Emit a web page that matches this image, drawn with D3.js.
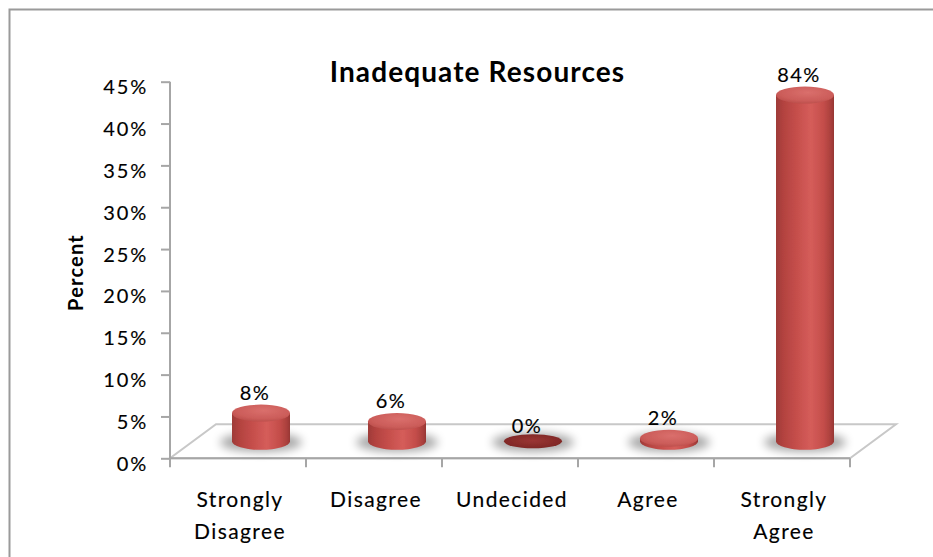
<!DOCTYPE html>
<html>
<head>
<meta charset="utf-8">
<script src="https://cdn.jsdelivr.net/npm/d3@7"></script>
<style>
  html, body { margin: 0; padding: 0; background: #fff; }
  svg { display: block; }
  text { font-family: Lato, "Open Sans", sans-serif; fill: #000; stroke: #000; stroke-width: 0.15px; }
  text.bold { stroke-width: 0; }
</style>
</head>
<body>
<svg id="chart" width="933" height="557"></svg>
<script>
// Survey responses
const categories = ["Strongly Disagree", "Disagree", "Undecided", "Agree", "Strongly Agree"];
const percents = [8, 6, 0, 2, 84];
const tickValues = [0, 10, 20, 30, 40, 50, 60, 70, 80, 90];
const tickLabels = ["0%", "5%", "10%", "15%", "20%", "25%", "30%", "35%", "40%", "45%"];
const title = "Inadequate Resources";
const axisTitle = "Percent";

const svg = d3.select("#chart");
const defs = svg.append("defs");

// Frame around the chart area
svg.append("rect")
  .attr("x", 9.5).attr("y", 9.5)
  .attr("width", 1000).attr("height", 1000)
  .attr("fill", "none").attr("stroke", "#9a9a9a").attr("stroke-width", 2);

// Plot geometry (front plane + floor depth)
const plot = { left: 170, right: 850, bottom: 458.3, top: 81.7 };
const depth = { dx: 46, dy: -34 };

const x = d3.scaleBand().domain(categories).range([plot.left, plot.right]).paddingInner(0).paddingOuter(0);
const y = d3.scaleLinear().domain([0, 90]).range([plot.bottom, plot.top]);
// Bars stand half-way into the floor depth
const yBar = d3.scaleLinear().domain([0, 90]).range([446.6, 446.6 - (plot.bottom - plot.top)]);
const baseY = plot.bottom + depth.dy / 2;
const rx = 29, ry = 8.5;

// Gradients and filters
const body = defs.append("linearGradient").attr("id", "cylBody").attr("x1", "0").attr("x2", "1").attr("y1", "0").attr("y2", "0");
[[0, "#9e3b38"], [0.12, "#b2423f"], [0.35, "#c54e4b"], [0.6, "#d55d5a"], [0.82, "#c44d4a"], [0.95, "#a93f3c"], [1, "#963633"]]
  .forEach(([o, c]) => body.append("stop").attr("offset", o).attr("stop-color", c));

const topFace = defs.append("radialGradient").attr("id", "cylTop").attr("cx", "0.55").attr("cy", "0.35").attr("r", "0.7");
[[0, "#da6f6c"], [0.7, "#cb5c59"], [1, "#b84b48"]]
  .forEach(([o, c]) => topFace.append("stop").attr("offset", o).attr("stop-color", c));

const zeroFace = defs.append("radialGradient").attr("id", "cylZero").attr("cx", "0.5").attr("cy", "0.45").attr("r", "0.65");
[[0, "#9a3533"], [1, "#7a2624"]]
  .forEach(([o, c]) => zeroFace.append("stop").attr("offset", o).attr("stop-color", c));

defs.append("filter").attr("id", "shadowBlur").attr("x", "-50%").attr("y", "-100%").attr("width", "200%").attr("height", "300%")
  .append("feGaussianBlur").attr("stdDeviation", 5);
defs.append("filter").attr("id", "soft")
  .append("feGaussianBlur").attr("stdDeviation", 0.5);

// Floor
const floor = [
  [plot.left, plot.bottom],
  [plot.right, plot.bottom],
  [plot.right + depth.dx, plot.bottom + depth.dy],
  [plot.left + depth.dx, plot.bottom + depth.dy]
];
svg.append("path")
  .attr("d", d3.line()(floor) + "Z")
  .attr("fill", "none").attr("stroke", "#c8c8c8").attr("stroke-width", 2);

// Category axis along the front edge of the floor
const xAxis = svg.append("g")
  .attr("transform", `translate(0,${plot.bottom})`)
  .call(d3.axisBottom(x).tickSize(0).tickFormat(""));
xAxis.select(".domain").attr("stroke", "#a6a6a6").attr("stroke-width", 2).attr("d", `M${plot.left},0H${plot.right}`);
xAxis.selectAll(".tick").remove();
xAxis.selectAll(".sep")
  .data(categories.map(c => x(c)).concat([plot.right]))
  .join("line")
  .attr("x1", d => d).attr("x2", d => d)
  .attr("y1", 0).attr("y2", 9)
  .attr("stroke", "#a6a6a6").attr("stroke-width", 2);

// Category labels, wrapped on spaces
const catLabels = svg.append("g");
categories.forEach(c => {
  const t = catLabels.append("text")
    .attr("text-anchor", "middle")
    .attr("font-size", 21)
    .attr("letter-spacing", 1.4)
    .attr("x", x(c) + x.bandwidth() / 2 + 2)
    .attr("y", 506.7);
  c.split(" ").forEach((w, i) => {
    t.append("tspan")
      .attr("x", x(c) + x.bandwidth() / 2 + 2)
      .attr("dy", i === 0 ? 0 : 32.3)
      .text(w);
  });
});

// Value axis
const yAxis = svg.append("g")
  .attr("transform", `translate(${plot.left},0)`)
  .call(d3.axisLeft(y).tickValues(tickValues).tickFormat((d, i) => tickLabels[i]).tickSize(9).tickPadding(13));
yAxis.select(".domain").attr("stroke", "#a6a6a6").attr("stroke-width", 2).attr("d", `M0,${plot.top}V${plot.bottom}`);
yAxis.selectAll(".tick line").attr("stroke", "#a6a6a6").attr("stroke-width", 2);
yAxis.selectAll(".tick text")
  .attr("font-family", "Lato, sans-serif")
  .attr("font-size", 20)
  .attr("letter-spacing", 1.8)
  .attr("fill", "#000")
  .attr("dy", 12);

// Cylinders
const bars = svg.append("g");
percents.forEach((v, i) => {
  const cx = x(categories[i]) + x.bandwidth() / 2 + depth.dx / 2;
  const topY = Math.min(baseY, yBar(v));
  const g = bars.append("g");

  g.append("ellipse")
    .attr("cx", cx).attr("cy", baseY + 1)
    .attr("rx", rx + 12).attr("ry", ry + 1)
    .attr("fill", "#000").attr("opacity", 0.35)
    .attr("filter", "url(#shadowBlur)");

  if (v > 0) {
    g.append("path")
      .attr("d", `M${cx - rx},${topY}V${baseY}A${rx},${ry} 0 0 0 ${cx + rx},${baseY}V${topY}Z`)
      .attr("fill", "url(#cylBody)")
      .attr("filter", "url(#soft)");
    g.append("ellipse")
      .attr("cx", cx).attr("cy", topY)
      .attr("rx", rx).attr("ry", ry)
      .attr("fill", "url(#cylTop)")
      .attr("filter", "url(#soft)");
  } else {
    g.append("ellipse")
      .attr("cx", cx).attr("cy", baseY)
      .attr("rx", rx).attr("ry", ry - 1.5)
      .attr("fill", "url(#cylZero)")
      .attr("filter", "url(#soft)");
  }

  g.append("text")
    .attr("text-anchor", "middle")
    .attr("font-size", 20)
    .attr("letter-spacing", 1.4)
    .attr("x", cx - 6)
    .attr("y", yBar(v) - ry - 5)
    .text(v + "%");
});

// Titles
svg.append("text")
  .attr("class", "bold")
  .attr("x", 477.5).attr("y", 82.3)
  .attr("text-anchor", "middle")
  .attr("font-size", 28).attr("font-weight", "bold")
  .attr("letter-spacing", 1.1)
  .text(title);

svg.append("text")
  .attr("class", "bold")
  .attr("transform", `translate(83.3,272.5) rotate(-90)`)
  .attr("text-anchor", "middle")
  .attr("font-size", 20).attr("font-weight", "bold")
  .attr("letter-spacing", 1.2)
  .text(axisTitle);
</script>
</body>
</html>
